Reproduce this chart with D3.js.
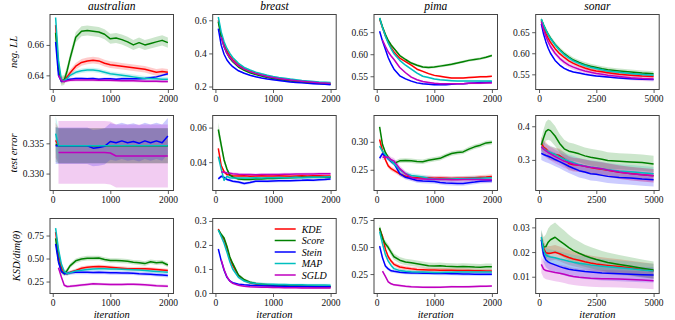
<!DOCTYPE html>
<html><head><meta charset="utf-8">
<script src="https://cdn.jsdelivr.net/npm/d3@7"></script>
<style>body{margin:0;background:#fff}</style>
</head><body><svg id="c" width="675" height="320"></svg>
<script>
const methods = ['KDE','Score','Stein','MAP','SGLD'];
const methodColors = ['#ff0000','#008000','#0000ff','#00bfbf','#bf00bf'];
const datasets = ['australian','breast','pima','sonar'];
const metricLabels = ['neg. LL','test error','KSD/dim(θ)'];
const iters2000 = [50,100,150,200,250,300,400,500,600,700,800,900,1000,1100,1200,1300,1400,1500,1600,1700,1800,1900,2000];
const iters5000 = [100,200,300,400,500,700,900,1100,1300,1500,1750,2000,2250,2500,2750,3000,3500,4000,4500,5000];
const xTicks2000 = [0,1000,2000];
const xTicks5000 = [0,2500,5000];

// ---- row 1: neg. LL ----
const ausLL_KDE = [0.673,0.645,0.6365,0.637,0.639,0.6415,0.646,0.6485,0.6495,0.650,0.6495,0.648,0.647,0.6465,0.646,0.6455,0.645,0.6445,0.644,0.643,0.642,0.6425,0.642];
const ausLL_Score = [0.668,0.643,0.6365,0.637,0.643,0.651,0.665,0.669,0.6695,0.669,0.6685,0.667,0.664,0.6645,0.6635,0.662,0.660,0.6615,0.660,0.661,0.662,0.663,0.6615];
const ausLL_Stein = [0.662,0.640,0.636,0.6365,0.637,0.6375,0.638,0.638,0.6378,0.638,0.6375,0.6378,0.6378,0.6375,0.6378,0.6378,0.6378,0.6378,0.638,0.6385,0.639,0.640,0.641];
const ausLL_MAP = [0.678,0.650,0.637,0.6365,0.638,0.640,0.642,0.643,0.6435,0.6435,0.643,0.642,0.641,0.6405,0.640,0.6395,0.639,0.6385,0.638,0.638,0.6378,0.6375,0.6375];
const ausLL_SGLD = [null,0.640,0.6365,0.636,0.6365,0.6368,0.637,0.637,0.637,0.637,0.6368,0.6368,0.6367,0.6366,0.6365,0.6365,0.6364,0.6363,0.6362,0.6362,0.6361,0.636,0.636];
const ausLL_band = [0.0022,0.0033,0.0008,0.0015,0.001];
const ausLL_ticks = ['0.64','0.66'];

const brLL_KDE = [0.60,0.51,0.455,0.415,0.385,0.363,0.33,0.308,0.292,0.28,0.27,0.262,0.255,0.249,0.244,0.239,0.235,0.231,0.228,0.225,0.222,0.220,0.218];
const brLL_Score = [0.59,0.50,0.44,0.40,0.37,0.35,0.318,0.298,0.283,0.272,0.263,0.255,0.249,0.243,0.238,0.234,0.230,0.227,0.224,0.221,0.219,0.216,0.214];
const brLL_Stein = [0.55,0.45,0.395,0.36,0.338,0.32,0.295,0.28,0.268,0.259,0.252,0.246,0.241,0.236,0.232,0.228,0.225,0.222,0.219,0.217,0.215,0.213,0.211];
const brLL_MAP = [0.62,0.53,0.47,0.43,0.40,0.375,0.34,0.315,0.30,0.287,0.277,0.268,0.261,0.255,0.250,0.245,0.241,0.237,0.234,0.231,0.228,0.226,0.224];
const brLL_SGLD = [null,0.50,0.44,0.40,0.375,0.355,0.325,0.305,0.29,0.278,0.269,0.261,0.254,0.249,0.244,0.239,0.235,0.232,0.229,0.226,0.223,0.221,0.219];
const brLL_band = [0.004,0.004,0.004,0.004,0.004];
const brLL_ticks = ['0.2','0.4','0.6'];

const piLL_KDE = [0.680,0.660,0.642,0.627,0.615,0.605,0.591,0.583,0.575,0.566,0.561,0.556,0.552,0.550,0.548,0.546,0.546,0.546,0.547,0.548,0.549,0.549,0.550];
const piLL_Score = [0.682,0.662,0.645,0.631,0.621,0.613,0.597,0.588,0.580,0.575,0.571,0.570,0.571,0.573,0.575,0.577,0.580,0.583,0.586,0.588,0.590,0.593,0.597];
const piLL_Stein = [0.652,0.630,0.611,0.592,0.578,0.566,0.551,0.544,0.539,0.535,0.533,0.532,0.531,0.531,0.531,0.532,0.533,0.533,0.534,0.535,0.536,0.536,0.537];
const piLL_MAP = [0.682,0.660,0.641,0.625,0.612,0.601,0.586,0.575,0.566,0.557,0.550,0.547,0.544,0.542,0.541,0.540,0.539,0.539,0.539,0.539,0.539,0.539,0.539];
const piLL_SGLD = [null,0.632,0.618,0.605,0.596,0.588,0.570,0.558,0.548,0.542,0.538,0.536,0.534,0.533,0.533,0.533,0.533,0.533,0.534,0.534,0.534,0.535,0.535];
const piLL_band = [0.002,0.003,0.002,0.002,0.002];
const piLL_ticks = ['0.55','0.60','0.65'];

const soLL_KDE = [0.678,0.660,0.647,0.636,0.626,0.611,0.599,0.590,0.582,0.576,0.570,0.565,0.561,0.558,0.556,0.554,0.550,0.548,0.546,0.545];
const soLL_Score = [0.680,0.667,0.655,0.645,0.636,0.621,0.609,0.599,0.591,0.584,0.578,0.573,0.569,0.566,0.563,0.561,0.558,0.5556,0.553,0.5516];
const soLL_Stein = [0.670,0.645,0.627,0.612,0.600,0.583,0.572,0.564,0.559,0.5556,0.553,0.550,0.548,0.546,0.545,0.5436,0.541,0.5396,0.5385,0.538];
const soLL_MAP = [0.681,0.667,0.655,0.644,0.635,0.620,0.607,0.597,0.589,0.582,0.576,0.571,0.567,0.564,0.561,0.558,0.555,0.552,0.5495,0.5476];
const soLL_SGLD = [0.675,0.655,0.640,0.627,0.616,0.600,0.588,0.579,0.572,0.567,0.562,0.558,0.555,0.552,0.550,0.548,0.545,0.542,0.540,0.539];
const soLL_band = [0.004,0.006,0.002,0.004,0.006];
const soLL_ticks = ['0.55','0.60','0.65'];

// ---- row 2: test error ----
const ausErr_KDE = [0.3355,0.3346,0.3346,0.3346,0.3346,0.3346,0.3346,0.3346,0.3346,0.3346,0.3346,0.3346,0.3346,0.3346,0.3346,0.3346,0.3346,0.3346,0.3346,0.3346,0.3346,0.3346,0.3346];
const ausErr_Score = [0.3348,0.3346,0.3346,0.3346,0.3346,0.3346,0.3346,0.3346,0.3346,0.3346,0.3346,0.3346,0.3346,0.3346,0.3346,0.3346,0.3346,0.3346,0.3346,0.3346,0.3346,0.3346,0.3346];
const ausErr_Stein = [0.3346,0.3346,0.3346,0.3346,0.3346,0.3346,0.3346,0.3346,0.3346,0.3342,0.3343,0.3345,0.3353,0.3351,0.3354,0.3351,0.3353,0.3350,0.3354,0.3351,0.3354,0.3351,0.3362];
const ausErr_MAP = [0.3366,0.3346,0.3346,0.3346,0.3346,0.3346,0.3346,0.3346,0.3346,0.3346,0.3346,0.3346,0.3346,0.3346,0.3346,0.3346,0.3346,0.3346,0.3346,0.3346,0.3346,0.3346,0.3346];
const ausErr_SGLD = [null,0.3335,0.3335,0.3335,0.3335,0.3335,0.3335,0.3335,0.3335,0.3335,0.3335,0.3335,0.3334,0.3329,0.3329,0.3329,0.3329,0.3329,0.3329,0.3329,0.3329,0.3329,0.3329];
const ausErr_band = [0.0029,0.0029,0.003,0.0029,0.0052];
const ausErr_ticks = ['0.330','0.335'];

const brErr_KDE = [0.048,0.038,0.0345,0.0328,0.0325,0.0322,0.032,0.0321,0.0319,0.032,0.0321,0.032,0.032,0.0321,0.032,0.0319,0.032,0.0321,0.032,0.0321,0.0322,0.032,0.032];
const brErr_Score = [0.0589,0.050,0.0413,0.036,0.0325,0.0315,0.0302,0.030,0.030,0.0302,0.0303,0.0305,0.0306,0.0307,0.0308,0.031,0.0311,0.0312,0.0312,0.0312,0.0312,0.0312,0.0312];
const brErr_Stein = [0.0303,0.0318,0.0312,0.0300,0.0295,0.029,0.0285,0.0276,0.0282,0.029,0.029,0.0289,0.0291,0.0292,0.0292,0.0293,0.0294,0.0295,0.0297,0.0296,0.0298,0.030,0.0303];
const brErr_MAP = [0.0432,0.036,0.0295,0.0318,0.031,0.0309,0.0309,0.0308,0.0309,0.031,0.0309,0.031,0.031,0.0311,0.031,0.0311,0.0312,0.031,0.0312,0.0313,0.0313,0.0314,0.0315];
const brErr_SGLD = [null,0.0345,0.0341,0.0338,0.0336,0.0333,0.033,0.0328,0.0328,0.0327,0.0328,0.0328,0.0329,0.0329,0.033,0.033,0.0331,0.0331,0.0332,0.0332,0.0333,0.0333,0.0333];
const brErr_band = [0.0008,[0.004,0.003,0.002,0.0012,0.001,0.0008,0.0008,0.0008,0.0008,0.0008,0.0008,0.0008,0.0008,0.0008,0.0008,0.0008,0.0008,0.0008,0.0008,0.0008,0.0008,0.0008,0.0008],0.0008,0.0008,0.0008];
const brErr_ticks = ['0.04','0.06'];

const piErr_KDE = [0.3041,0.284,0.268,0.257,0.252,0.249,0.2425,0.2385,0.2365,0.236,0.2355,0.236,0.235,0.2355,0.235,0.2345,0.235,0.235,0.2355,0.236,0.2365,0.237,0.238];
const piErr_Score = [0.3265,0.295,0.281,0.272,0.266,0.2615,0.266,0.2668,0.266,0.265,0.2645,0.267,0.269,0.2705,0.275,0.279,0.281,0.282,0.287,0.291,0.294,0.298,0.299];
const piErr_Stein = [0.2706,0.279,0.275,0.270,0.265,0.2615,0.243,0.2365,0.234,0.231,0.230,0.2295,0.229,0.2275,0.2265,0.226,0.2255,0.2255,0.227,0.228,0.2295,0.230,0.2306];
const piErr_MAP = [0.2924,0.283,0.277,0.270,0.266,0.261,0.250,0.243,0.240,0.2385,0.237,0.235,0.2337,0.2335,0.2335,0.2335,0.234,0.234,0.2345,0.235,0.235,0.2355,0.2359];
const piErr_SGLD = [null,0.2724,0.273,0.2725,0.268,0.266,0.252,0.243,0.236,0.234,0.2335,0.233,0.233,0.2325,0.2325,0.232,0.232,0.2325,0.2325,0.2325,0.2325,0.2324,0.2324];
const piErr_band = [0.004,0.004,0.004,0.004,0.005];
const piErr_ticks = ['0.25','0.30'];

const soErr_KDE = [0.349,0.338,0.333,0.325,0.320,0.316,0.313,0.303,0.289,0.2855,0.285,0.281,0.277,0.2745,0.272,0.269,0.263,0.2595,0.256,0.253];
const soErr_Score = [0.344,0.366,0.385,0.390,0.387,0.371,0.349,0.333,0.326,0.323,0.318,0.312,0.308,0.305,0.302,0.298,0.296,0.294,0.292,0.288];
const soErr_Stein = [0.3196,0.316,0.313,0.311,0.308,0.301,0.295,0.288,0.281,0.275,0.268,0.264,0.259,0.257,0.254,0.251,0.248,0.246,0.243,0.241];
const soErr_MAP = [0.339,0.334,0.329,0.325,0.322,0.316,0.309,0.302,0.296,0.292,0.286,0.282,0.279,0.277,0.274,0.271,0.267,0.265,0.262,0.259];
const soErr_SGLD = [0.339,0.332,0.327,0.322,0.318,0.310,0.303,0.296,0.292,0.288,0.284,0.281,0.278,0.276,0.274,0.270,0.264,0.259,0.256,0.253];
const soErr_band = [0.02,[0.02,0.025,0.028,0.03,0.03,0.03,0.028,0.027,0.026,0.026,0.025,0.025,0.025,0.025,0.025,0.025,0.024,0.024,0.024,0.024],0.02,0.02,0.02];
const soErr_ticks = ['0.3','0.4'];

// ---- row 3: KSD/dim ----
const ausKSD_KDE = [0.786,0.56,0.40,0.345,0.335,0.35,0.37,0.395,0.405,0.41,0.413,0.41,0.405,0.40,0.395,0.39,0.388,0.39,0.39,0.385,0.38,0.375,0.37];
const ausKSD_Score = [0.72,0.48,0.36,0.335,0.37,0.42,0.475,0.495,0.504,0.504,0.505,0.49,0.478,0.478,0.475,0.47,0.46,0.455,0.445,0.465,0.455,0.46,0.43];
const ausKSD_Stein = [0.659,0.46,0.36,0.335,0.338,0.345,0.35,0.35,0.35,0.348,0.35,0.348,0.345,0.345,0.343,0.342,0.34,0.335,0.333,0.33,0.325,0.32,0.315];
const ausKSD_MAP = [0.83,0.60,0.44,0.36,0.335,0.345,0.365,0.372,0.38,0.385,0.388,0.388,0.386,0.385,0.383,0.38,0.378,0.375,0.37,0.365,0.36,0.355,0.351];
const ausKSD_SGLD = [null,0.40,0.30,0.21,0.196,0.198,0.205,0.212,0.218,0.225,0.222,0.22,0.218,0.218,0.219,0.22,0.22,0.218,0.215,0.21,0.205,0.202,0.20];
const ausKSD_band = [0.02,0.025,0.02,0.02,0.015];
const ausKSD_ticks = ['0.25','0.50','0.75'];

const brKSD_KDE = [0.266,0.24,0.222,0.185,0.145,0.115,0.072,0.053,0.043,0.038,0.035,0.033,0.031,0.030,0.029,0.028,0.028,0.027,0.027,0.026,0.026,0.026,0.026];
const brKSD_Score = [0.262,0.245,0.229,0.195,0.150,0.123,0.075,0.055,0.045,0.040,0.037,0.034,0.032,0.031,0.030,0.029,0.029,0.028,0.028,0.028,0.027,0.027,0.027];
const brKSD_Stein = [0.183,0.135,0.095,0.065,0.05,0.043,0.037,0.034,0.032,0.031,0.030,0.029,0.029,0.028,0.028,0.027,0.027,0.027,0.027,0.026,0.026,0.026,0.026];
const brKSD_MAP = [0.262,0.235,0.207,0.17,0.13,0.10,0.065,0.050,0.043,0.040,0.038,0.037,0.036,0.035,0.035,0.034,0.034,0.034,0.033,0.033,0.033,0.033,0.0327];
const brKSD_SGLD = [null,0.139,0.098,0.068,0.05,0.04,0.032,0.028,0.026,0.025,0.024,0.024,0.023,0.023,0.022,0.022,0.022,0.021,0.021,0.021,0.021,0.0205,0.0205];
const brKSD_band = [0.006,0.006,0.004,0.006,0.004];
const brKSD_ticks = ['0.0','0.1','0.2','0.3'];

const piKSD_KDE = [0.667,0.60,0.48,0.41,0.37,0.34,0.315,0.305,0.298,0.293,0.29,0.288,0.287,0.286,0.285,0.284,0.283,0.283,0.282,0.281,0.28,0.279,0.278];
const piKSD_Score = [0.679,0.58,0.53,0.495,0.45,0.41,0.378,0.362,0.355,0.345,0.335,0.326,0.325,0.327,0.322,0.32,0.318,0.32,0.318,0.315,0.314,0.318,0.318];
const piKSD_Stein = [0.509,0.40,0.325,0.297,0.28,0.275,0.267,0.263,0.26,0.259,0.258,0.257,0.256,0.255,0.254,0.253,0.252,0.25,0.25,0.249,0.248,0.248,0.247];
const piKSD_MAP = [0.642,0.53,0.43,0.37,0.33,0.30,0.282,0.276,0.272,0.27,0.268,0.267,0.265,0.265,0.266,0.267,0.268,0.268,0.269,0.27,0.27,0.27,0.27];
const piKSD_SGLD = [null,0.276,0.228,0.178,0.160,0.150,0.143,0.136,0.132,0.130,0.128,0.127,0.127,0.128,0.130,0.133,0.132,0.132,0.133,0.134,0.136,0.137,0.139];
const piKSD_band = [0.02,0.03,0.015,0.015,0.01];
const piKSD_ticks = ['0.25','0.50','0.75'];

const soKSD_KDE = [0.0255,0.0215,0.0197,0.0195,0.0195,0.0199,0.0193,0.0185,0.0178,0.0172,0.0167,0.0161,0.0156,0.0152,0.0149,0.0146,0.0141,0.0135,0.0129,0.0123];
const soKSD_Score = [0.025,0.022,0.0222,0.024,0.025,0.026,0.0245,0.0232,0.0218,0.0206,0.0195,0.0185,0.0177,0.017,0.0164,0.0158,0.015,0.0142,0.0134,0.0127];
const soKSD_Stein = [0.0249,0.0188,0.0168,0.016,0.0155,0.0148,0.0141,0.0135,0.013,0.0127,0.0124,0.0121,0.0119,0.0117,0.0115,0.0114,0.0112,0.011,0.0108,0.0107];
const soKSD_MAP = [0.0262,0.0208,0.0188,0.0183,0.018,0.0177,0.0172,0.0168,0.0163,0.0159,0.0155,0.0152,0.0148,0.0145,0.0142,0.014,0.0136,0.0132,0.0127,0.0123];
const soKSD_SGLD = [0.015,0.0131,0.0125,0.0123,0.0121,0.0117,0.0114,0.011,0.0105,0.0101,0.0098,0.0096,0.0094,0.0093,0.0092,0.0092,0.0091,0.0089,0.0087,0.0084];
const soKSD_band = [0.003,[0.004,0.004,0.005,0.0055,0.0058,0.006,0.0058,0.0055,0.0052,0.005,0.0048,0.0045,0.0043,0.0042,0.004,0.004,0.0038,0.0037,0.0036,0.0035],0.003,0.003,0.0035];
const soKSD_ticks = ['0.01','0.02','0.03'];

// ---- layout ----
const colLeft = [50, 212.7, 374, 535.7];
const rowTop = [14.5, 115.5, 218.5];
const pw = 123.5, ph = 75;
const xDom2000 = [-47.5, 2097.5], xDom5000 = [-145, 5245];

const panels = [
  {r:0,c:0,s:[ausLL_KDE,ausLL_Score,ausLL_Stein,ausLL_MAP,ausLL_SGLD],b:ausLL_band,t:ausLL_ticks,y:[0.6307,0.680]},
  {r:0,c:1,s:[brLL_KDE,brLL_Score,brLL_Stein,brLL_MAP,brLL_SGLD],b:brLL_band,t:brLL_ticks,y:[0.182,0.635]},
  {r:0,c:2,s:[piLL_KDE,piLL_Score,piLL_Stein,piLL_MAP,piLL_SGLD],b:piLL_band,t:piLL_ticks,y:[0.520,0.690]},
  {r:0,c:3,s:[soLL_KDE,soLL_Score,soLL_Stein,soLL_MAP,soLL_SGLD],b:soLL_band,t:soLL_ticks,y:[0.514,0.692]},
  {r:1,c:0,s:[ausErr_KDE,ausErr_Score,ausErr_Stein,ausErr_MAP,ausErr_SGLD],b:ausErr_band,t:ausErr_ticks,y:[0.3272,0.3396]},
  {r:1,c:1,s:[brErr_KDE,brErr_Score,brErr_Stein,brErr_MAP,brErr_SGLD],b:brErr_band,t:brErr_ticks,y:[0.0236,0.067]},
  {r:1,c:2,s:[piErr_KDE,piErr_Score,piErr_Stein,piErr_MAP,piErr_SGLD],b:piErr_band,t:piErr_ticks,y:[0.213,0.347]},
  {r:1,c:3,s:[soErr_KDE,soErr_Score,soErr_Stein,soErr_MAP,soErr_SGLD],b:soErr_band,t:soErr_ticks,y:[0.209,0.432]},
  {r:2,c:0,s:[ausKSD_KDE,ausKSD_Score,ausKSD_Stein,ausKSD_MAP,ausKSD_SGLD],b:ausKSD_band,t:ausKSD_ticks,y:[0.12,0.935]},
  {r:2,c:1,s:[brKSD_KDE,brKSD_Score,brKSD_Stein,brKSD_MAP,brKSD_SGLD],b:brKSD_band,t:brKSD_ticks,y:[-0.002,0.31]},
  {r:2,c:2,s:[piKSD_KDE,piKSD_Score,piKSD_Stein,piKSD_MAP,piKSD_SGLD],b:piKSD_band,t:piKSD_ticks,y:[0.07,0.764]},
  {r:2,c:3,s:[soKSD_KDE,soKSD_Score,soKSD_Stein,soKSD_MAP,soKSD_SGLD],b:soKSD_band,t:soKSD_ticks,y:[0.0032,0.0336]}
];

const svg = d3.select('#c');
const SERIF = '"Liberation Serif","DejaVu Serif",serif';
const defs = svg.append('defs');

panels.forEach((p, i) => {
  const big = p.c === 3;
  const xs = big ? iters5000 : iters2000;
  const x = d3.scaleLinear().domain(big ? xDom5000 : xDom2000).range([0, pw]);
  const y = d3.scaleLinear().domain(p.y).range([ph, 0]);
  const g = svg.append('g').attr('transform', `translate(${colLeft[p.c]},${rowTop[p.r]})`);
  defs.append('clipPath').attr('id', 'clip' + i).append('rect').attr('width', pw).attr('height', ph);
  const plot = g.append('g').attr('clip-path', `url(#clip${i})`);

  // bands
  p.s.forEach((vals, k) => {
    const bw = p.b[k];
    const pts = xs.map((xv, j) => ({x: xv, v: vals[j], h: Array.isArray(bw) ? bw[j] : bw}));
    const area = d3.area().defined(d => d.v != null)
      .x(d => x(d.x)).y0(d => y(d.v - d.h)).y1(d => y(d.v + d.h));
    plot.append('path').datum(pts).attr('d', area)
      .attr('fill', methodColors[k]).attr('fill-opacity', 0.2).attr('stroke', 'none');
  });
  // lines
  p.s.forEach((vals, k) => {
    const pts = xs.map((xv, j) => ({x: xv, v: vals[j]}));
    const line = d3.line().defined(d => d.v != null).x(d => x(d.x)).y(d => y(d.v));
    plot.append('path').datum(pts).attr('d', line)
      .attr('fill', 'none').attr('stroke', methodColors[k]).attr('stroke-width', 1.5)
      .attr('stroke-linejoin', 'round');
  });

  // axes
  const xa = g.append('g').attr('transform', `translate(0,${ph})`)
    .call(d3.axisBottom(x).tickValues(big ? xTicks5000 : xTicks2000).tickFormat(d3.format('d')).tickSize(3.5).tickPadding(2.5));
  const ya = g.append('g')
    .call(d3.axisLeft(y).tickValues(p.t.map(Number)).tickFormat((d, j) => p.t[j]).tickSize(3.5).tickPadding(2.5));
  [xa, ya].forEach(a => {
    a.select('.domain').remove();
    a.selectAll('line').attr('stroke', '#333').attr('stroke-width', 0.8);
    a.selectAll('text').attr('font-family', SERIF).attr('font-size', 9.5).attr('fill', '#111');
  });
  g.append('rect').attr('width', pw).attr('height', ph)
    .attr('fill', 'none').attr('stroke', '#444').attr('stroke-width', 1);

  if (p.r === 0) {
    g.append('text').attr('x', pw / 2).attr('y', -4.5).attr('text-anchor', 'middle')
      .attr('font-family', SERIF).attr('font-style', 'italic').attr('font-size', 11.5)
      .text(datasets[p.c]);
  }
  if (p.r === 2) {
    g.append('text').attr('x', pw / 2).attr('y', ph + 24).attr('text-anchor', 'middle')
      .attr('font-family', SERIF).attr('font-style', 'italic').attr('font-size', 10.5)
      .text('iteration');
  }
  if (p.c === 0) {
    const lx = [-37, -37, -33.5][p.r];
    g.append('text').attr('transform', `translate(${lx},${ph / 2}) rotate(-90)`)
      .attr('text-anchor', 'middle').attr('dy', '0.35em')
      .attr('font-family', SERIF).attr('font-style', 'italic').attr('font-size', 10.5)
      .text(metricLabels[p.r]);
  }
  if (p.r === 2 && p.c === 1) {
    const lg = g.append('g').attr('transform', 'translate(62,10.5)');
    methods.forEach((m, k) => {
      const yy = k * 11.5;
      lg.append('line').attr('x1', 0).attr('x2', 21).attr('y1', yy).attr('y2', yy)
        .attr('stroke', methodColors[k]).attr('stroke-width', 1.5);
      lg.append('text').attr('x', 27).attr('y', yy).attr('dy', '0.35em')
        .attr('font-family', SERIF).attr('font-style', 'italic').attr('font-size', 10)
        .text(m);
    });
  }
});
</script></body></html>
